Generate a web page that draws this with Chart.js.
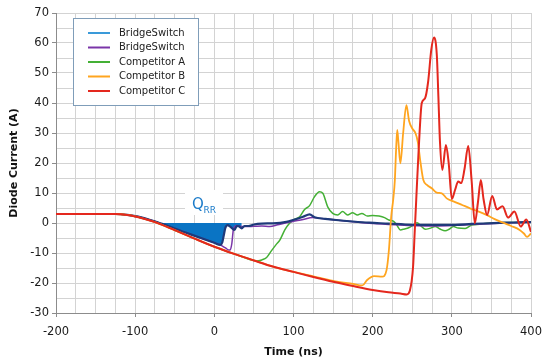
<!DOCTYPE html>
<html lang="en">
<head>
  <meta charset="UTF-8">
  <title>Diode current vs time</title>
  <script src="https://cdn.jsdelivr.net/npm/chart.js@4"></script>
  <style>
    body { margin: 0; background: #fff; }
    #wrap { width: 550px; height: 363px; }
  </style>
</head>
<body>
<div id="wrap"><canvas id="chart" width="550" height="363"></canvas></div>
<script>
// legend entries, in the order shown
const seriesNames = ['BridgeSwitch', 'BridgeSwitch', 'Competitor A', 'Competitor B', 'Competitor C'];

// Competitor C (red)
const redX = [-200,-125,-110,-100,-90,-75,-50,-25,0,25,50,75,100,125,150,175,200,220,235,243,247,251,253,255,258,262,266,270,274,277.5,281,283,285,288,292.5,296,300,304,308,312,316,320.7,325,329,333,336.6,340,344.5,351,357,364,371,379,387,394,400];
const redY = [3,3,2.7,2.2,1.5,0.3,-2.4,-5.2,-7.9,-10.3,-12.5,-14.6,-16.3,-18,-19.6,-21,-22.3,-23.1,-23.5,-23.8,-22.5,-14.6,-3.4,7.7,24,40,41.5,47,57.7,61.8,56,42,27,17.7,26,20,8,11,13.8,13.3,18,25.7,14,-0.1,7,14.3,8,2.7,9,4.5,5.6,1.8,3.8,-1.2,1.2,-3];

// Competitor B (orange)
const orangeX = [-200,-125,-110,-100,-90,-75,-50,-25,0,25,50,75,100,125,150,175,187,193,201.7,212,217.5,220.5,223.4,226,228,229.5,231,232.5,235,238.5,242.6,246,250,254,257,260.5,264,268.5,275,281,287.3,293.5,302,313,323,334,343.7,354,364.6,375,385.6,391,395,400];
const orangeY = [3,3,2.7,2.2,1.5,0.3,-2.4,-5.2,-7.9,-10.3,-12.5,-14.6,-16.3,-17.8,-19.3,-20.3,-20.8,-19.0,-17.7,-17.9,-15.7,-9,2.1,8,14.3,24,31,27,19.9,30,39.3,34,31.5,30,27,20,14.3,12.7,11.5,10.1,9.9,8.2,7.2,6,4.9,3.8,2.7,1.3,0.1,-1,-2.3,-3.5,-4.6,-3.5];

// Competitor A (green)
const greenX = [-200,-125,-110,-100,-90,-75,-50,-25,0,25,50,55.6,60,66,72,78,82.7,89,95,101,107.8,114,120.3,126.6,132.8,137,143.2,149.5,155.8,162,168.3,174.5,180.8,186.3,193.3,200,208,215,220.5,226,230,235,240,245.5,251,256,261,266.5,272,279,285,291.5,297,302,308,316.8,325,335,345.8,360,380,400];
const greenY = [3,3,2.7,2.2,1.5,0.3,-2.4,-5.2,-7.9,-10.3,-12.5,-12.6,-12.3,-11.5,-9.3,-7.2,-5.7,-2.3,-0.1,1.2,2.1,4.5,5.8,8.8,10.4,9.9,5.4,3.2,2.7,3.8,2.7,3.4,2.7,3.2,2.3,2.5,2.3,1.8,1.0,0.6,-0.5,-2.3,-2.0,-1.6,-0.8,0.1,-1.0,-2.1,-1.8,-1.2,-2.0,-2.6,-2.0,-1.2,-1.7,-1.8,-0.7,-0.4,-0.1,0.1,0.2,0.3];

// BridgeSwitch (navy)
const blueX = [-200,-125,-110,-100,-90,-80,-66,-30,0,7.6,10,12,13.8,17,20,25.5,28.4,31,34.6,38,43,50,60,74,91,99.4,112,120.3,126.6,140,153.7,175,195.5,220,241,262,283,304,325,346,367,385,400];
const blueY = [3,3,2.7,2.3,1.7,0.9,-0.3,-3.8,-6.6,-7.3,-6.5,-4,-1.7,-0.7,-1.2,-2.3,-1.0,-1.1,-1.8,-1.0,-1.0,-0.5,-0.2,-0.1,0.4,1.0,2.1,2.9,1.9,1.4,1.0,0.5,0.1,-0.2,-0.5,-0.6,-0.6,-0.6,-0.3,-0.1,0.1,0.2,0.3];

// BridgeSwitch (purple)
const purpleX = [-200,-125,-110,-100,-90,-80,-66,-30,0,7.6,14,18,20,22,24.2,28.4,33,39,50,60,70,80,91,99,112,124.5,135,153.7,175,195.5,220,245,283,325,366.7,400];
const purpleY = [3,3,2.7,2.3,1.7,0.9,-0.3,-3.8,-6.6,-7.3,-8.3,-9.0,-9.0,-7,-2.0,-0.8,-1.2,-1.2,-1.1,-1.0,-1.2,-0.6,0.1,0.5,1.2,1.8,1.5,1.0,0.4,-0.1,-0.5,-0.8,-1.0,-0.5,0,0.3];

// shaded Qrr area
const qrrX = [-66,-30,0,7.6,10,12,13.8,17,20,25.5,28.4,31,34.6];
const qrrY = [0,-3.8,-6.6,-7.3,-6.5,-4,-1.7,-0.7,-1.2,-2.3,-1.0,-1.1,-1.8];

const pts = (xs, ys) => xs.map((x, i) => ({x: x, y: ys[i]}));

const legendColors = ['#3a9ad9', '#7a35a8', '#44b035', '#ffa51f', '#e4281e'];
const FONT = "'DejaVu Sans', Verdana, sans-serif";
Chart.defaults.font.family = FONT;

function line(data, color, width, order) {
  return { data, borderColor: color, borderWidth: width, pointRadius: 0, fill: false,
           cubicInterpolationMode: 'monotone', order };
}

const datasets = [
  line(pts(blueX, blueY), '#1f3a7a', 2.2, 2),
  line(pts(purpleX, purpleY), '#7a35a8', 1.5, 3),
  line(pts(greenX, greenY), '#44b035', 1.5, 4),
  line(pts(orangeX, orangeY), '#ffa51f', 1.8, 1),
  line(pts(redX, redY), '#e4281e', 2, 0),
  { data: pts(qrrX, qrrY), borderWidth: 0, pointRadius: 0, fill: 'origin',
    backgroundColor: '#0a74c4', cubicInterpolationMode: 'monotone', order: 6 }
];

// white label box with Qrr text, under the curves
const qrrLabel = {
  id: 'qrrLabel',
  beforeDatasetsDraw(chart) {
    const c = chart.ctx;
    c.save();
    c.fillStyle = '#fff';
    c.fillRect(185, 190, 38, 25);
    c.fillStyle = '#1b7bc9';
    c.textBaseline = 'alphabetic';
    c.font = '15px ' + FONT;
    c.fillText('Q', 192, 209);
    c.font = '9px ' + FONT;
    c.fillText('RR', 203.5, 213);
    c.restore();
  }
};

const boxLegend = {
  id: 'boxLegend',
  afterDraw(chart) {
    const c = chart.ctx;
    c.save();
    c.fillStyle = '#fff';
    c.fillRect(73.5, 18.5, 125, 87);
    c.strokeStyle = '#7f9db9';
    c.lineWidth = 1;
    c.strokeRect(73.5, 18.5, 125, 87);
    c.font = '10px ' + FONT;
    c.textBaseline = 'middle';
    seriesNames.forEach((name, i) => {
      const y = 33 + i * 14.5;
      c.strokeStyle = legendColors[i];
      c.lineWidth = 2;
      c.beginPath(); c.moveTo(88, y); c.lineTo(110, y); c.stroke();
      c.fillStyle = '#222';
      c.fillText(name, 119, y);
    });
    c.restore();
  }
};

new Chart(document.getElementById('chart'), {
  type: 'line',
  data: { datasets },
  options: {
    responsive: false,
    animation: false,
    layout: { padding: { top: 13, right: 15, left: 0, bottom: 0 } },
    plugins: { legend: { display: false }, tooltip: { enabled: false } },
    scales: {
      x: {
        type: 'linear', min: -200, max: 400,
        afterFit: s => { s.height = 50; },
        ticks: { stepSize: 25, autoSkip: false, maxRotation: 0, padding: 8, color: '#1a1a1a',
                 font: { size: 11.5 }, callback: v => (v % 100 === 0 ? v : '') },
        grid: { color: '#d3d3d3', tickLength: 4,
                tickColor: ctx => (ctx.tick && ctx.tick.value % 100 === 0 ? '#8c8c8c' : 'rgba(0,0,0,0)') },
        border: { color: '#8c8c8c' },
        title: { display: true, text: 'Time (ns)', color: '#111',
                 font: { size: 11, weight: 'bold' }, padding: { top: 0, bottom: 4 } }
      },
      y: {
        min: -30, max: 70,
        afterFit: s => { s.width = 56; },
        ticks: { stepSize: 5, autoSkip: false, padding: 3, color: '#1a1a1a',
                 font: { size: 11.5 }, callback: v => (v % 10 === 0 ? v : '') },
        grid: { color: '#d3d3d3', tickLength: 4,
                tickColor: ctx => (ctx.tick && ctx.tick.value % 10 === 0 ? '#8c8c8c' : 'rgba(0,0,0,0)') },
        border: { color: '#8c8c8c' },
        title: { display: true, text: 'Diode Current (A)', color: '#111',
                 font: { size: 11, weight: 'bold' }, padding: { top: 8, bottom: 0 } }
      }
    }
  },
  plugins: [qrrLabel, boxLegend]
});
</script>
</body>
</html>
